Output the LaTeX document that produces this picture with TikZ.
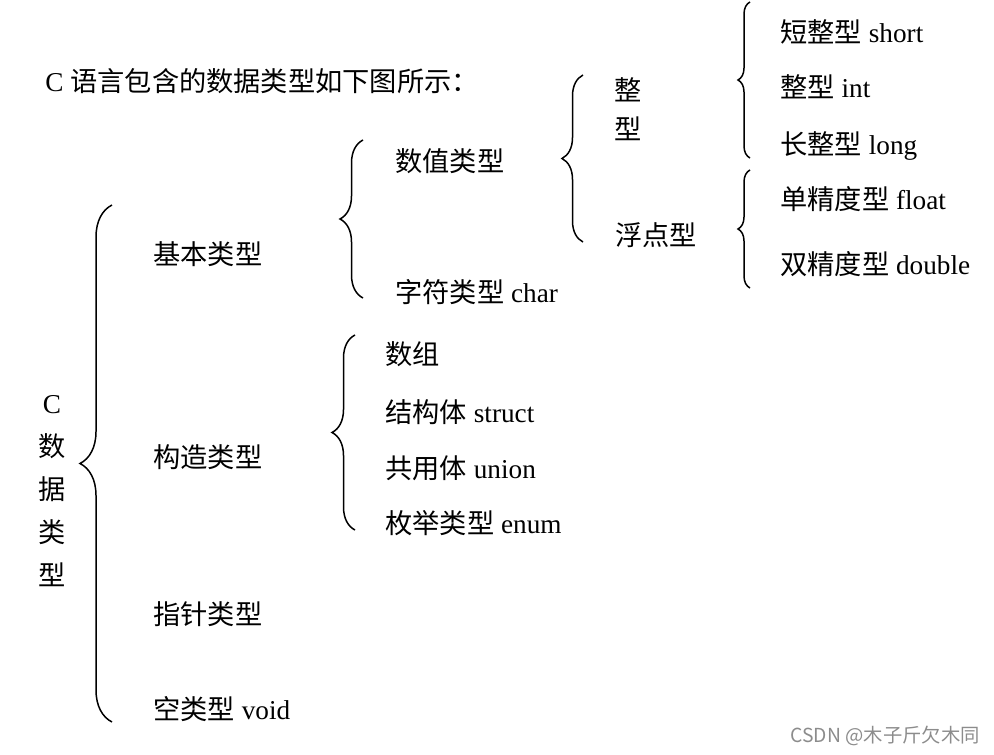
\documentclass[tikz,border=0pt]{standalone}
\usepackage{fontspec}
\setmainfont{Liberation Serif}
\newfontfamily\cjk{Noto Sans CJK SC}
\usetikzlibrary{decorations.pathreplacing}

\begin{document}
\begin{tikzpicture}[x=0.02cm, y=-0.02cm,
    % one line of text, placed by its left edge
    item/.style={
        anchor=west,
        inner sep=0pt,
        yshift=-0.08cm,
        text height=0.8em,
        text depth=0.2em,
        font=\fontsize{15.5}{18}\selectfont
    },
    % characters set one below the other
    stack/.style={
        align=center,
        inner sep=0pt,
        font=#1
    },
    % curly brace with its tip to the left
    curly/.style={
        decorate,
        decoration={brace, amplitude=#1},
        line width=0.85pt,
        draw=black
    }
]
\useasboundingbox (0,0) rectangle (994,754);

% --- Title line ---
\node[item] (title) at (45,82) {C {\cjk 语言包含的数据类型如下图所示：}};

% --- LEVEL 0: root written downwards ---
\node[stack={\fontsize{15.5}{24.5}\selectfont}] (ctype) at (52,491)
    {C\\{\cjk 数}\\{\cjk 据}\\{\cjk 类}\\{\cjk 型}};

% --- LEVEL 1 ---
\node[item] (basic)   at (153,255) {{\cjk 基本类型}};
\node[item] (built)   at (153,458) {{\cjk 构造类型}};
\node[item] (pointer) at (153,615) {{\cjk 指针类型}};
\node[item] (void)    at (153,710) {{\cjk 空类型} void};

% --- LEVEL 2: basic types ---
\node[item] (numeric) at (395,162) {{\cjk 数值类型}};
\node[item] (char)    at (395,293) {{\cjk 字符类型} char};

% --- LEVEL 2: built types ---
\node[item] (array)  at (385,355) {{\cjk 数组}};
\node[item] (struct) at (385,413) {{\cjk 结构体} struct};
\node[item] (union)  at (385,469) {{\cjk 共用体} union};
\node[item] (enum)   at (385,524) {{\cjk 枚举类型} enum};

% --- LEVEL 3: numeric types ---
\node[stack={\fontsize{15.5}{22.5}\selectfont}] (integer) at (628,109)
    {{\cjk 整}\\{\cjk 型}};
\node[item] (floating) at (615,236) {{\cjk 浮点型}};

% --- LEVEL 4 ---
\node[item] (short)  at (780,33)  {{\cjk 短整型} short};
\node[item] (int)    at (780,88)  {{\cjk 整型} int};
\node[item] (long)   at (780,145) {{\cjk 长整型} long};
\node[item] (float)  at (780,200) {{\cjk 单精度型} float};
\node[item] (double) at (780,265) {{\cjk 双精度型} double};

% --- Brace ends ---
\coordinate (rootTop)  at (112,205);
\coordinate (rootBot)  at (112,722);
\coordinate (basicTop) at (363,140);
\coordinate (basicBot) at (363,298);
\coordinate (builtTop) at (355,335);
\coordinate (builtBot) at (355,530);
\coordinate (numTop)   at (583,75);
\coordinate (numBot)   at (583,242);
\coordinate (intTop)   at (750,2);
\coordinate (intBot)   at (750,158);
\coordinate (fltTop)   at (750,170);
\coordinate (fltBot)   at (750,288);

\draw[curly=0.64cm] (rootBot) -- (rootTop);
\draw[curly=0.46cm] (basicBot) -- (basicTop);
\draw[curly=0.46cm] (builtBot) -- (builtTop);
\draw[curly=0.42cm] (numBot) -- (numTop);
\draw[curly=0.24cm] (intBot) -- (intTop);
\draw[curly=0.24cm] (fltBot) -- (fltTop);

% --- Watermark ---
\node[anchor=east, inner sep=0pt, text=black!45, font=\cjk\fontsize{11}{13}\selectfont]
    (mark) at (980,736) {CSDN @木子斤欠木同};

\end{tikzpicture}
\end{document}
